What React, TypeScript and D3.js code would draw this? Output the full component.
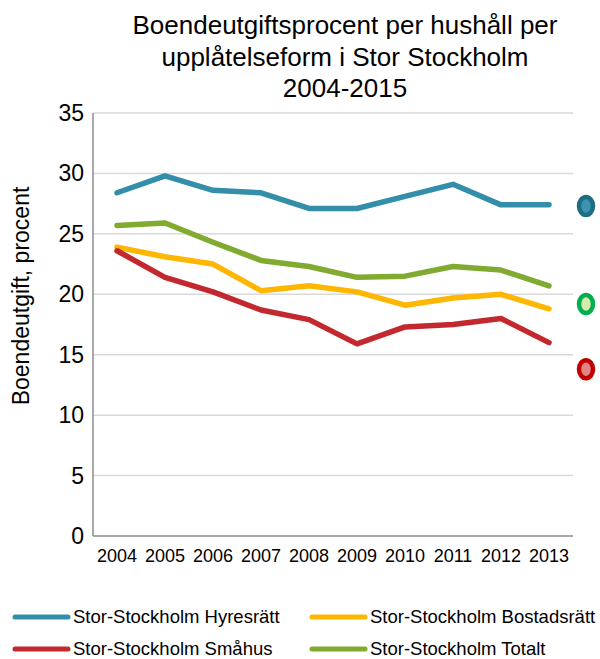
import { useRef, useEffect } from 'react'
import * as d3 from 'd3'

const years = ['2004', '2005', '2006', '2007', '2008', '2009', '2010', '2011', '2012', '2013']
const hyresratt = [28.4, 29.8, 28.6, 28.4, 27.1, 27.1, 28.1, 29.1, 27.4, 27.4]
const bostadsratt = [23.9, 23.1, 22.5, 20.3, 20.7, 20.2, 19.1, 19.7, 20.0, 18.8]
const smahus = [23.6, 21.4, 20.2, 18.7, 17.9, 15.9, 17.3, 17.5, 18.0, 16.0]
const totalt = [25.7, 25.9, 24.3, 22.8, 22.3, 21.4, 21.5, 22.3, 22.0, 20.7]
const yTicks = [0, 5, 10, 15, 20, 25, 30, 35]
const titleLines = ['Boendeutgiftsprocent per hushåll per', 'upplåtelseform i Stor Stockholm', '2004-2015']
// separate points shown to the right of the plot (Hyresrätt, Totalt, Småhus)
const sidePoints = [27.3, 19.2, 13.8]

const series = [
  { name: 'Stor-Stockholm Hyresrätt', values: hyresratt, color: '#338fa9' },
  { name: 'Stor-Stockholm Bostadsrätt', values: bostadsratt, color: '#ffb600' },
  { name: 'Stor-Stockholm Småhus', values: smahus, color: '#c3282e' },
  { name: 'Stor-Stockholm Totalt', values: totalt, color: '#80aa30' },
]
const sideColors = [
  { outer: '#1f6c85', inner: '#3b94ae' },
  { outer: '#00b050', inner: '#d7eaae' },
  { outer: '#c00000', inner: '#e48585' },
]

const App = () => {
  const chartRef = useRef<SVGGElement>(null)

  const W = 600
  const H = 659
  const margin = { top: 113, right: 27, bottom: 123, left: 93 }
  const font = 'Liberation Sans, Arial, sans-serif'

  useEffect(() => {
    const g = d3.select(chartRef.current)
    g.selectAll('*').remove()
    const iw = W - margin.left - margin.right
    const ih = H - margin.top - margin.bottom

    const x = d3.scaleBand().domain(years).range([0, iw])
    const y = d3.scaleLinear().domain([0, 35]).range([ih, 0])
    const cx = (d: string) => (x(d) as number) + x.bandwidth() / 2

    // grid
    g.selectAll('.grid')
      .data(yTicks.filter(t => t > 0))
      .enter()
      .append('line')
      .attr('x1', 0).attr('x2', iw)
      .attr('y1', d => y(d)).attr('y2', d => y(d))
      .attr('stroke', '#d9d9d9').attr('stroke-width', 1.5)

    // axes lines
    g.append('line').attr('x1', 0).attr('x2', 0).attr('y1', 0).attr('y2', ih)
      .attr('stroke', '#8c8c8c').attr('stroke-width', 1.5)
    g.append('line').attr('x1', 0).attr('x2', iw).attr('y1', ih).attr('y2', ih)
      .attr('stroke', '#8c8c8c').attr('stroke-width', 1.5)

    // y tick labels
    g.selectAll('.ytick')
      .data(yTicks)
      .enter()
      .append('text')
      .attr('x', -9)
      .attr('y', d => y(d))
      .attr('dy', '0.35em')
      .attr('text-anchor', 'end')
      .attr('font-family', font)
      .attr('font-size', 23)
      .attr('fill', '#000')
      .text(d => d)

    // x tick labels
    g.selectAll('.xtick')
      .data(years)
      .enter()
      .append('text')
      .attr('x', d => cx(d))
      .attr('y', ih + 26)
      .attr('text-anchor', 'middle')
      .attr('font-family', font)
      .attr('font-size', 18)
      .attr('fill', '#000')
      .text(d => d)

    // lines
    const line = d3.line<number>()
      .x((_, i) => cx(years[i]))
      .y(d => y(d))

    series.forEach(s => {
      g.append('path')
        .datum(s.values)
        .attr('d', line)
        .attr('fill', 'none')
        .attr('stroke', s.color)
        .attr('stroke-width', 5.5)
        .attr('stroke-linecap', 'round')
        .attr('stroke-linejoin', 'round')
    })

    // side markers
    sidePoints.forEach((v, i) => {
      g.append('ellipse')
        .attr('cx', iw + 13).attr('cy', y(v))
        .attr('rx', 7).attr('ry', 9)
        .attr('fill', sideColors[i].inner)
        .attr('stroke', sideColors[i].outer)
        .attr('stroke-width', 4.5)
    })
  })

  const legendRows = [[series[0], series[1]], [series[2], series[3]]]

  return (
    <svg width={W} height={H} style={{ position: 'absolute', left: 0, top: 0, background: '#fff' }}>
      <text textAnchor="middle" fontFamily={font} fontSize={26} fill="#000">
        {titleLines.map((t, i) => (
          <tspan key={i} x={345} y={34 + i * 31.5}>{t}</tspan>
        ))}
      </text>
      <text
        transform={`translate(29, 296) rotate(-90)`}
        textAnchor="middle"
        fontFamily={font}
        fontSize={23}
        fill="#000"
      >
        Boendeutgift, procent
      </text>
      <g ref={chartRef} transform={`translate(${margin.left}, ${margin.top})`}></g>
      {legendRows.map((row, r) =>
        row.map((s, c) => {
          const lx = c === 0 ? 15 : 312
          const ly = 617 + r * 32
          return (
            <g key={s.name}>
              <line x1={lx} x2={lx + 53} y1={ly} y2={ly} stroke={s.color} strokeWidth={5} strokeLinecap="round" />
              <text x={lx + 58} y={ly} dy="0.35em" fontFamily={font} fontSize={18.5} fill="#000">{s.name}</text>
            </g>
          )
        })
      )}
    </svg>
  )
}

export default App
